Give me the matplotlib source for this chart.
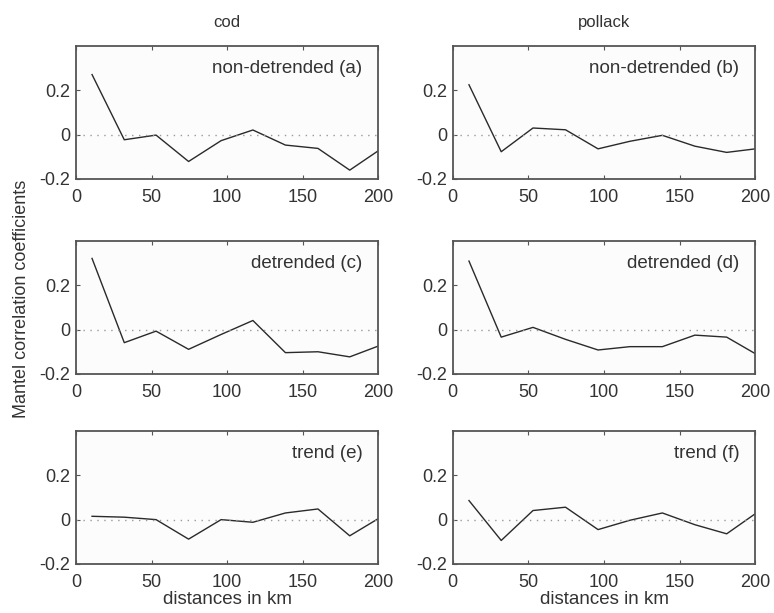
import matplotlib
matplotlib.use("Agg")
import matplotlib.pyplot as plt

plt.rcParams['font.family'] = ['Liberation Sans', 'DejaVu Sans']

distance_km = [10.7, 32, 53, 74.5, 96, 117, 138.5, 160, 181, 200]

cod_nondetrended = [0.271, -0.023, -0.002, -0.121, -0.027, 0.021, -0.047, -0.062, -0.160, -0.072]
pollack_nondetrended = [0.225, -0.077, 0.030, 0.022, -0.064, -0.030, -0.003, -0.052, -0.080, -0.064]
cod_detrended = [0.321, -0.059, -0.007, -0.089, -0.022, 0.041, -0.104, -0.100, -0.123, -0.074]
pollack_detrended = [0.309, -0.034, 0.010, -0.044, -0.092, -0.077, -0.077, -0.025, -0.034, -0.109]
cod_trend = [0.015, 0.011, 0.000, -0.088, 0.000, -0.012, 0.030, 0.048, -0.073, 0.005]
pollack_trend = [0.086, -0.094, 0.041, 0.056, -0.045, -0.003, 0.030, -0.023, -0.064, 0.027]

panel_labels = ["non-detrended (a)", "non-detrended (b)",
                "detrended (c)", "detrended (d)",
                "trend (e)", "trend (f)"]
column_titles = ["cod", "pollack"]
x_ticks = [0, 50, 100, 150, 200]
y_ticks = [-0.2, 0, 0.2]
y_tick_labels = ["-0.2", "0", "0.2"]

series = [cod_nondetrended, pollack_nondetrended,
          cod_detrended, pollack_detrended,
          cod_trend, pollack_trend]

fig = plt.figure(figsize=(7.74, 6.13), dpi=100)
fig.patch.set_facecolor('white')

lefts = [0.098, 0.585]
bottoms = [0.708, 0.390, 0.080]
width, height = 0.391, 0.217
text_col = '#333333'

for i, vals in enumerate(series):
    r, c = divmod(i, 2)
    ax = fig.add_axes([lefts[c], bottoms[r], width, height])
    ax.set_facecolor('#fcfcfc')
    ax.plot(distance_km, vals, color='#2a2a2a', lw=1.0)
    ax.axhline(0, color='#999999', lw=1.0, ls=(0, (1, 4)))
    ax.set_xlim(0, 200)
    ax.set_ylim(-0.2, 0.4)
    ax.set_xticks(x_ticks)
    ax.set_yticks(y_ticks)
    ax.set_yticklabels(y_tick_labels)
    ax.tick_params(direction='in', length=3, top=True, right=False,
                   labelsize=13, colors='#555555', labelcolor=text_col)
    ax.tick_params(axis='x', pad=7)
    ax.tick_params(axis='y', pad=4)
    for s in ax.spines.values():
        s.set_color('#555555')
        s.set_linewidth(1.3)
    ax.text(0.947, 0.83, panel_labels[i], transform=ax.transAxes,
            ha='right', va='center', fontsize=13.5, color=text_col)
    if r == 0:
        ax.set_title(column_titles[c], fontsize=12, color=text_col, pad=14)
    if r == 2:
        ax.set_xlabel("distances in km", fontsize=13.5, color=text_col, labelpad=0)

fig.text(0.028, 0.513, "Mantel correlation coefficients", rotation=90,
         ha='center', va='center', fontsize=13, color=text_col)

fig.savefig("out.png", dpi=100)
